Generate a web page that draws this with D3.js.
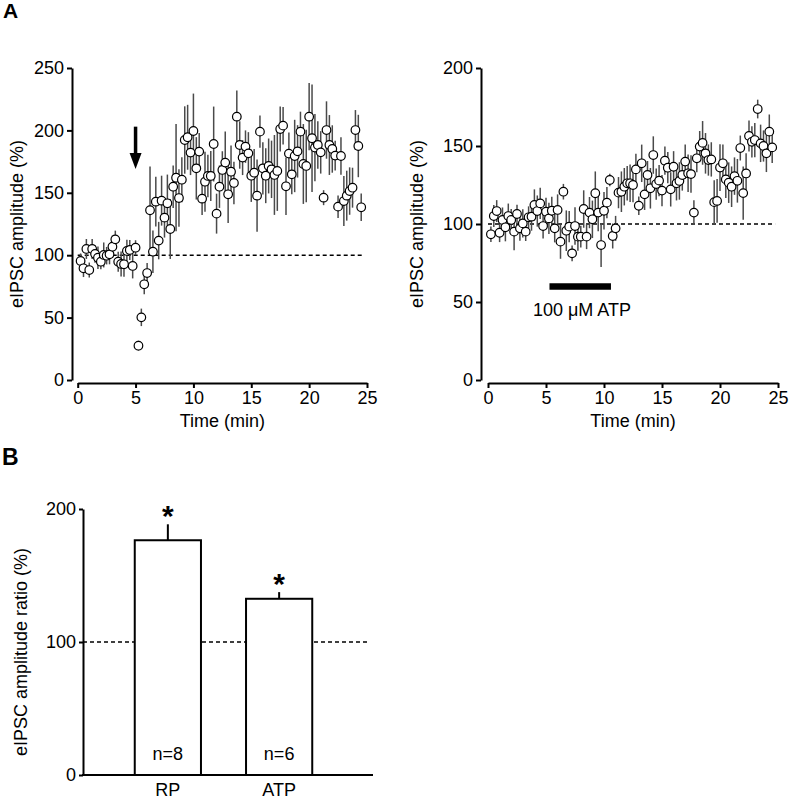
<!DOCTYPE html>
<html><head><meta charset="utf-8">
<script src="https://cdn.jsdelivr.net/npm/d3@7"></script>
<style>
html,body{margin:0;padding:0;background:#fff;}
text{font-family:Arial,"Liberation Sans",sans-serif;fill:#000;}
</style></head>
<body>
<svg id="chart" width="791" height="799"></svg>
<script>
// ---------- DATA ----------
// Panel A left: electrical RP stimulation (arrow at 5 min); samples every 0.25 min
const leftTime = d3.range(1, 99).map(k => k * 0.25);
const leftMean = [95.4,89.5,105.0,88.1,105.0,101.0,98.0,94.8,100.2,99.6,100.7,106.8,112.7,94.8,93.0,92.7,103.4,104.2,91.4,106.0,
27.5,50.2,76.7,85.7,136.0,102.8,142.9,111.7,143.7,130.1,141.6,121.0,154.9,162.1,145.8,160.5,192.3,194.5,182.2,199.5,
169.6,183.0,145.3,158.9,163.5,163.5,189.1,133.3,154.9,168.3,174.2,148.8,166.9,157.9,211.0,188.3,178.2,187.0,181.6,163.7,
166.1,147.7,199.0,169.6,163.7,171.5,168.8,164.3,167.5,201.1,203.8,155.2,181.4,164.8,179.5,183.2,199.0,173.1,171.5,211.0,
193.7,186.2,188.3,182.4,146.1,200.3,188.3,185.1,179.8,138.9,179.5,143.4,147.7,151.4,154.1,200.3,187.5,138.4];
const leftSem = [6,7,8,6,8,7,9,6,10,7,8,9,7,8,10,10,9,8,10,6,
4,7,8,8,35,17,20,15,20,16,23,24,17,43,23,18,27,26,18,30,
25,15,13,24,17,20,30,16,17,15,25,23,21,17,21,19,14,13,17,21,
19,29,13,21,22,22,23,32,32,18,15,23,17,16,29,21,16,32,29,27,
43,27,19,17,6,23,24,19,12,9,15,20,20,19,16,16,25,11];

// Panel A right: 100 µM ATP applied 5.3–10.6 min
const rightTime = d3.range(1, 99).map(k => k * 0.25);
const rightMean = [93.4,105.1,108.3,94.4,102.6,97.9,105.1,102.6,95.1,106.4,97.2,100.4,95.1,104.3,104.7,112.2,108.3,113.2,98.7,107.9,
103.6,108.5,97.2,109.0,88.7,120.7,95.7,98.3,81.2,98.7,91.9,91.9,109.6,91.9,107.3,103.0,119.7,107.3,86.5,108.5,
113.7,128.2,92.3,97.2,120.1,120.7,123.9,126.1,126.1,125.0,135.0,111.7,138.9,119.0,131.4,122.9,144.2,125.6,127.8,121.4,
140.6,136.1,122.2,136.7,126.1,127.6,131.4,140.0,132.5,132.0,107.3,142.1,149.6,152.0,145.3,141.0,141.4,114.0,114.8,136.2,
138.9,128.6,126.5,123.9,130.7,127.7,148.7,119.8,132.4,156.4,152.7,153.8,173.7,151.7,150.0,145.3,159.2,149.1];
const rightSem = [5,7,7,6,8,9,8,7,12,6,8,9,6,7,9,10,10,10,8,9,
10,9,9,10,11,5,13,10,5,12,9,7,12,8,10,12,14,12,14,12,
10,4,8,8,10,13,12,11,12,11,10,6,12,10,9,13,12,10,10,10,
9,10,11,10,11,12,10,11,12,12,8,9,10,14,13,10,11,14,14,15,
12,12,13,13,12,14,8,17,13,10,10,11,6,12,10,12,11,10];

const leftYTicks = [0, 50, 100, 150, 200, 250];
const rightYTicks = [0, 50, 100, 150, 200];
const timeTicks = [0, 5, 10, 15, 20, 25];
const refLine = [0, 24.75];          // dashed 100 % baseline extent (min)
const arrowTime = 5;                 // stimulation arrow
const atpBar = [5.3, 10.6];          // ATP application (min)
const atpLabel = "100 \u03BCM ATP";

// Panel B
const barCats = ["RP", "ATP"];
const barMeans = [176.5, 132.5];
const barSems = [12, 5];
const barN = ["n=8", "n=6"];
const barYTicks = [0, 100, 200];

// ---------- DRAW ----------
const svg = d3.select("#chart");
const FS = 18;

function scatterPanel(opt) {
  const g = svg.append("g");
  const x = d3.scaleLinear().domain([0, 25]).range(opt.xr);
  const y = d3.scaleLinear().domain(opt.yd).range([380, 68]);

  // y axis
  const ya = g.append("g").attr("transform", `translate(${opt.yAxisX},0)`)
    .call(d3.axisLeft(y).tickValues(opt.yTicks).tickSize(5).tickSizeOuter(0).tickPadding(3));
  // x axis
  const xa = g.append("g").attr("transform", `translate(0,383)`)
    .call(d3.axisBottom(x).tickValues(timeTicks).tickSize(5).tickSizeOuter(0).tickPadding(3));
  [ya, xa].forEach(a => {
    a.select(".domain").attr("stroke", "#000").attr("stroke-width", 2);
    a.selectAll(".tick line").attr("stroke", "#000").attr("stroke-width", 2);
    a.selectAll("text").attr("font-size", FS).attr("font-family", "Arial, Liberation Sans").attr("fill", "#000");
  });

  // labels
  g.append("text").attr("x", d3.mean(opt.xr)).attr("y", 427).attr("text-anchor", "middle")
    .attr("font-size", FS).text("Time (min)");
  g.append("text").attr("transform", `translate(${opt.yLabelX},224) rotate(-90)`)
    .attr("text-anchor", "middle").attr("font-size", FS).text("eIPSC amplitude (%)");

  // dashed 100% line
  g.append("line").attr("x1", x(refLine[0])).attr("x2", x(refLine[1]))
    .attr("y1", y(100)).attr("y2", y(100))
    .attr("stroke", "#000").attr("stroke-width", 1.6).attr("stroke-dasharray", "4,3");

  const data = opt.t.map((t, i) => ({ t, m: opt.m[i], s: opt.s[i] }));
  // error bars
  g.append("g").selectAll("line").data(data).join("line")
    .attr("x1", d => x(d.t)).attr("x2", d => x(d.t))
    .attr("y1", d => y(d.m - d.s)).attr("y2", d => y(d.m + d.s))
    .attr("stroke", "#4a4a4a").attr("stroke-width", 1.5);
  // points
  g.append("g").selectAll("circle").data(data).join("circle")
    .attr("cx", d => x(d.t)).attr("cy", d => y(d.m)).attr("r", 4.3)
    .attr("fill", "#fff").attr("stroke", "#000").attr("stroke-width", 1.2);
  return { g, x, y };
}

const L = scatterPanel({ xr: [77.7, 367], yd: [0, 250], yAxisX: 72, yLabelX: 23,
  yTicks: leftYTicks, t: leftTime, m: leftMean, s: leftSem });
const R = scatterPanel({ xr: [488, 778], yd: [0, 200], yAxisX: 481, yLabelX: 423,
  yTicks: rightYTicks, t: rightTime, m: rightMean, s: rightSem });

// arrow in left panel
{
  const ax = L.x(arrowTime);
  const yTop = L.y(203), yTip = L.y(169);
  L.g.append("line").attr("x1", ax).attr("x2", ax).attr("y1", yTop).attr("y2", yTip - 12)
    .attr("stroke", "#000").attr("stroke-width", 3.5);
  L.g.append("path")
    .attr("d", `M${ax - 6},${yTip - 16} L${ax + 6},${yTip - 16} L${ax},${yTip} Z`)
    .attr("fill", "#000");
}
// ATP bar + label in right panel
R.g.append("line").attr("x1", R.x(atpBar[0])).attr("x2", R.x(atpBar[1]))
  .attr("y1", R.y(60)).attr("y2", R.y(60)).attr("stroke", "#000").attr("stroke-width", 6.5);
R.g.append("text").attr("x", R.x(8.1)).attr("y", R.y(41)).attr("text-anchor", "middle")
  .attr("font-size", FS).text(atpLabel);

// panel letters
svg.append("text").attr("x", 3).attr("y", 18).attr("font-size", 21).attr("font-weight", "bold").text("A");
svg.append("text").attr("x", 2).attr("y", 465).attr("font-size", 23).attr("font-weight", "bold").text("B");

// ---------- Panel B ----------
{
  const g = svg.append("g");
  const y = d3.scaleLinear().domain([0, 200]).range([775, 509]);
  const x = d3.scaleBand().domain(barCats).range([112.5, 334.5]).paddingInner(0.405).paddingOuter(0.2);
  const axisX = 83, axisEnd = 373;

  // dashed 100 line (behind bars)
  g.append("line").attr("x1", axisX).attr("x2", 368).attr("y1", y(100)).attr("y2", y(100))
    .attr("stroke", "#000").attr("stroke-width", 1.6).attr("stroke-dasharray", "4,3");

  const data = barCats.map((c, i) => ({ c, m: barMeans[i], s: barSems[i], n: barN[i] }));
  // error bars (upper only)
  g.selectAll(".eb").data(data).join("line").attr("class", "eb")
    .attr("x1", d => x(d.c) + x.bandwidth() / 2).attr("x2", d => x(d.c) + x.bandwidth() / 2)
    .attr("y1", d => y(d.m)).attr("y2", d => y(d.m + d.s))
    .attr("stroke", "#000").attr("stroke-width", 2);
  g.selectAll(".bar").data(data).join("rect").attr("class", "bar")
    .attr("x", d => x(d.c)).attr("width", x.bandwidth())
    .attr("y", d => y(d.m)).attr("height", d => y(0) - y(d.m))
    .attr("fill", "#fff").attr("stroke", "#000").attr("stroke-width", 2);
  // stars
  g.selectAll(".star").data(data).join("text").attr("class", "star")
    .attr("x", d => x(d.c) + x.bandwidth() / 2).attr("y", d => y(d.m + d.s) + 2)
    .attr("text-anchor", "middle").attr("font-size", 30).attr("font-weight", "bold").text("*");
  // n labels
  g.selectAll(".n").data(data).join("text").attr("class", "n")
    .attr("x", d => x(d.c) + x.bandwidth() / 2).attr("y", y(11))
    .attr("text-anchor", "middle").attr("font-size", FS).text(d => d.n);
  // category labels
  g.selectAll(".cat").data(data).join("text").attr("class", "cat")
    .attr("x", d => x(d.c) + x.bandwidth() / 2).attr("y", 796)
    .attr("text-anchor", "middle").attr("font-size", FS).text(d => d.c);

  // y axis
  const ya = g.append("g").attr("transform", `translate(${axisX},0)`)
    .call(d3.axisLeft(y).tickValues(barYTicks).tickSize(4).tickSizeOuter(0).tickPadding(3));
  ya.select(".domain").attr("stroke", "#000").attr("stroke-width", 2);
  ya.selectAll(".tick line").attr("stroke", "#000").attr("stroke-width", 2);
  ya.selectAll("text").attr("font-size", FS).attr("font-family", "Arial, Liberation Sans").attr("fill", "#000");
  // x axis baseline
  g.append("line").attr("x1", axisX - 1).attr("x2", axisEnd).attr("y1", y(0)).attr("y2", y(0))
    .attr("stroke", "#000").attr("stroke-width", 2);

  g.append("text").attr("transform", `translate(27,${(y(0) + y(200)) / 2 + 10}) rotate(-90)`)
    .attr("text-anchor", "middle").attr("font-size", FS).text("eIPSC amplitude ratio (%)");
}
</script>
</body></html>
